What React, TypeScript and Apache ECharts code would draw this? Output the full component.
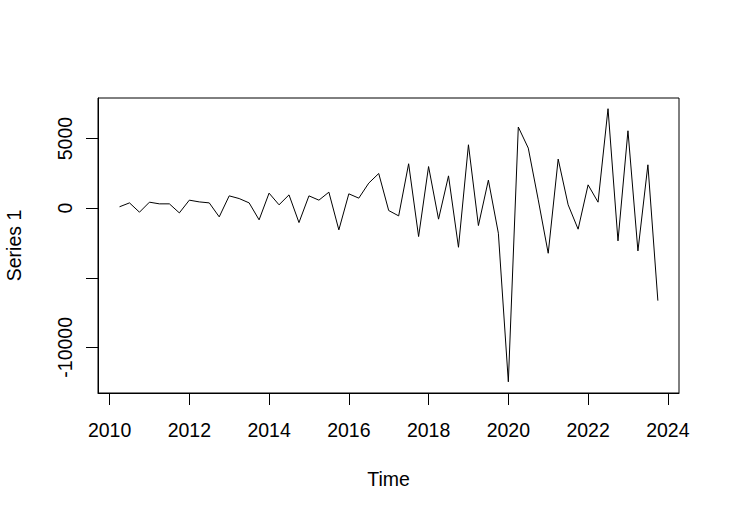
import React, { useEffect, useRef } from "react";
import * as echarts from "echarts";

const startYear = 2010.25;
const frequency = 4;
const seriesValues: number[] = [
  100, 380, -290, 430, 310, 310, -340, 575, 450, 380, -625, 885, 690, 380, -840, 1080,
  240, 955, -1035, 885, 575, 1150, -1560, 1030, 720, 1800, 2490, -170, -555, 3190,
  -2040, 2990, -790, 2320, -2810, 4555, -1250, 2015, -1800, -12475, 5830, 4315, 600,
  -3240, 3525, 240, -1510, 1675, 430, 7145, -2350, 5560, -3070, 3115, -6645,
];
const xTicks: number[] = [2010, 2012, 2014, 2016, 2018, 2020, 2022, 2024];
const yTicks: number[] = [-10000, -5000, 0, 5000];
const yLabels: number[] = [-10000, 0, 5000];

const FONT = "'Liberation Sans', Arial, sans-serif";
const FS = 19.5;

export default function App() {
  const ref = useRef<HTMLDivElement>(null);
  useEffect(() => {
    if (!ref.current) return;
    const chart = echarts.init(ref.current, undefined, { renderer: "svg" });
    const data = seriesValues.map((v, i) => [startYear + i / frequency, v]);
    chart.setOption({
      animation: false,
      backgroundColor: "#ffffff",
      textStyle: { fontFamily: FONT },
      grid: {
        left: 98,
        right: 51,
        top: 98,
        bottom: 123,
        show: true,
        borderColor: "#000",
        borderWidth: 1,
        containLabel: false,
        outerBoundsMode: "none",
      },
      xAxis: {
        type: "value",
        min: 2009.71,
        max: 2024.28,
        name: "Time",
        nameLocation: "middle",
        nameGap: 76,
        nameTextStyle: { color: "#000", fontSize: FS, fontFamily: FONT },
        axisLine: { show: true, onZero: false, lineStyle: { color: "#000", width: 1 } },
        splitLine: { show: false },
        axisTick: {
          show: true,
          length: 12,
          lineStyle: { color: "#000", width: 1 },
          customValues: xTicks,
        },
        axisLabel: {
          color: "#000",
          fontSize: FS,
          fontFamily: FONT,
          margin: 27,
          customValues: xTicks,
          formatter: (v: number) => String(v),
        },
      },
      yAxis: {
        type: "value",
        min: -13280,
        max: 7915,
        name: "Series 1",
        nameLocation: "middle",
        nameRotate: 90,
        nameGap: 74,
        nameTextStyle: { color: "#000", fontSize: FS, fontFamily: FONT },
        axisLine: { show: true, onZero: false, lineStyle: { color: "#000", width: 1 } },
        splitLine: { show: false },
        axisTick: {
          show: true,
          length: 12,
          lineStyle: { color: "#000", width: 1 },
          customValues: yTicks,
        },
        axisLabel: {
          color: "#000",
          fontSize: FS,
          fontFamily: FONT,
          rotate: 90,
          margin: 23,
          customValues: yLabels,
          formatter: (v: number) => String(v),
        },
      },
      series: [
        {
          type: "line",
          data,
          showSymbol: false,
          symbol: "none",
          lineStyle: { color: "#000", width: 1 },
        },
      ],
    });
    return () => chart.dispose();
  }, []);
  return (
    <div
      ref={ref}
      style={{ position: "fixed", left: 0, top: 0, width: 730, height: 516 }}
    />
  );
}
